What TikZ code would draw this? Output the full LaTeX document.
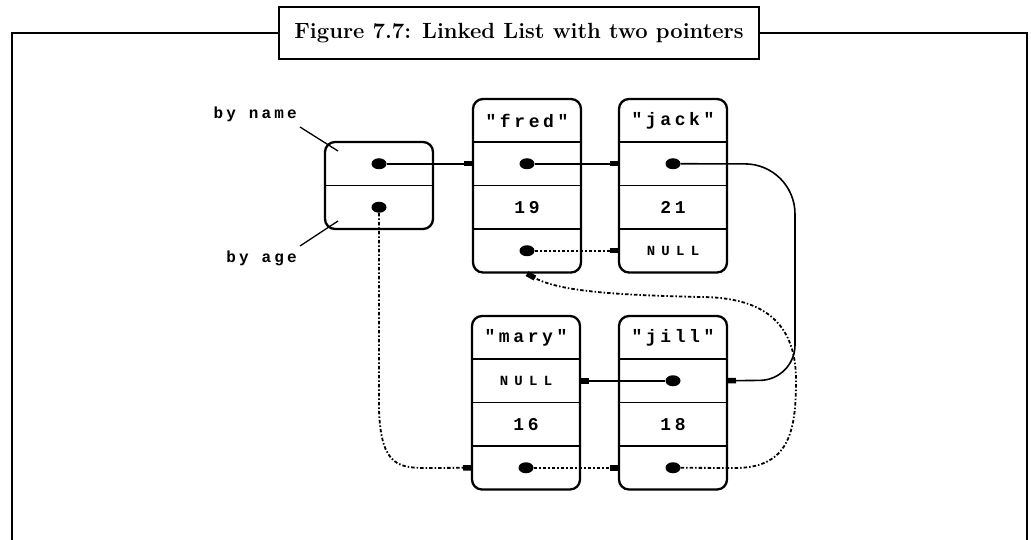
\documentclass[tikz,border=0pt]{standalone}
\usepackage{fontspec}
\usepackage{tikz}
\usetikzlibrary{positioning,arrows.meta,fit,shapes.geometric}
\newfontfamily\cellfont[LetterSpace=20]{Liberation Mono}
\newfontfamily\nilfont[LetterSpace=45]{Liberation Mono}

\begin{document}
\begin{tikzpicture}[
  x=1pt, y=-1pt,
  frame/.style={line width=2pt},
  caption/.style={draw, line width=2pt, minimum width=480pt, minimum height=52pt,
                  font=\fontsize{22}{26}\selectfont\bfseries, inner sep=0pt},
  hdr/.style={minimum width=108pt, minimum height=43pt, inner sep=0pt, outer sep=0pt,
              font=\fontsize{18}{21}\selectfont\cellfont\bfseries},
  row/.style={hdr, minimum height=43.5pt},
  nul/.style={row, font=\fontsize{14}{16}\selectfont\nilfont\bfseries},
  lbox/.style={draw, line width=2.3pt, rounded corners=10pt, inner sep=0pt},
  div/.style={line width=1.3pt},
  dot/.style={ellipse, fill=black, minimum width=15pt, minimum height=11pt, inner sep=0pt},
  tag/.style={font=\fontsize{16}{18}\selectfont\cellfont\bfseries, anchor=east, inner sep=0pt},
  ptr/.style={-{Rectangle[length=9pt,width=5.5pt]}, line width=1.6pt},
  back/.style={ptr, line width=1.8pt, dash pattern=on 3.5pt off 2pt on 1.5pt off 2pt}
]
\useasboundingbox (0,0) rectangle (1031,540);

% caption and frame
\node[caption] (title) at (519,33) {Figure 7.7: Linked List with two pointers};
\draw[frame] (12,540) |- (title.west);
\draw[frame] (title.east) -| (1027,540);

% head cell
\node[row] (head-n) at (379,163.75) {};
\node[row, below=0pt of head-n] (head-a) {};
\node[lbox, fit=(head-n)(head-a)] (head) {};
\draw[div] (head-n.south west) -- (head-n.south east);

% list cells
\node[hdr] (fred-h) at (527,120.5) {"fred"};
\node[row, below=0pt of fred-h] (fred-p) {};
\node[row, below=0pt of fred-p] (fred-a) {19};
\node[row, below=0pt of fred-a] (fred-n) {};

\node[hdr] (jack-h) at (673,120.5) {"jack"};
\node[row, below=0pt of jack-h] (jack-p) {};
\node[row, below=0pt of jack-p] (jack-a) {21};
\node[nul, below=0pt of jack-a] (jack-n) {NULL};

\node[hdr] (mary-h) at (526,337.5) {"mary"};
\node[nul, below=0pt of mary-h] (mary-p) {NULL};
\node[row, below=0pt of mary-p] (mary-a) {16};
\node[row, below=0pt of mary-a] (mary-n) {};

\node[hdr] (jill-h) at (673,337.5) {"jill"};
\node[row, below=0pt of jill-h] (jill-p) {};
\node[row, below=0pt of jill-p] (jill-a) {18};
\node[row, below=0pt of jill-a] (jill-n) {};

\foreach \n in {fred,jack,mary,jill} {
  \node[lbox, fit=(\n-h)(\n-n)] (\n) {};
  \foreach \r in {h,p,a}
    \draw[div] (\n-\r.south west) -- (\n-\r.south east);
}

% pointer dots
\node[dot] (head-nd) at (head-n) {};
\node[dot] (head-ad) at (head-a) {};
\node[dot] (fred-pd) at (fred-p) {};
\node[dot] (fred-nd) at (fred-n) {};
\node[dot] (jack-pd) at (jack-p) {};
\node[dot] (mary-nd) at (mary-n) {};
\node[dot] (jill-pd) at (jill-p) {};
\node[dot] (jill-nd) at (jill-n) {};

% labels
\node[tag] (byname) at (297,114) {by name};
\node[tag] (byage) at (297,258) {by age};
\coordinate (nameend) at (338,151);
\coordinate (ageend) at (338,221);
\draw[line width=1.3pt] (300,127) -- (nameend);
\draw[line width=1.3pt] (300,246) -- (ageend);

% by name chain
\draw[ptr] (head-nd) -- (fred-p.west);
\draw[ptr] (fred-pd) -- (jack-p.west);
\draw[ptr, rounded corners=50pt] (jack-pd) -- (795,164)
  [rounded corners=35pt] -- (795,380) -- (jill-p.east);
\draw[ptr] (jill-pd) -- (mary-p.east);

% by age chain
\draw[back] (head-ad) -- (379,410) .. controls (381,468) and (400,468) .. (430,468)
  -- (mary-n.west);
\draw[back] (mary-nd) -- (jill-n.west);
\draw[back] (jill-nd) -- (735,468) .. controls (790,468) and (796,430) .. (796,380)
  .. controls (796,320) and (760,297) .. (700,297)
  .. controls (620,295) and (560,292) .. (fred.south);
\draw[back] (fred-nd) -- (jack-n.west);
\end{tikzpicture}
\end{document}
